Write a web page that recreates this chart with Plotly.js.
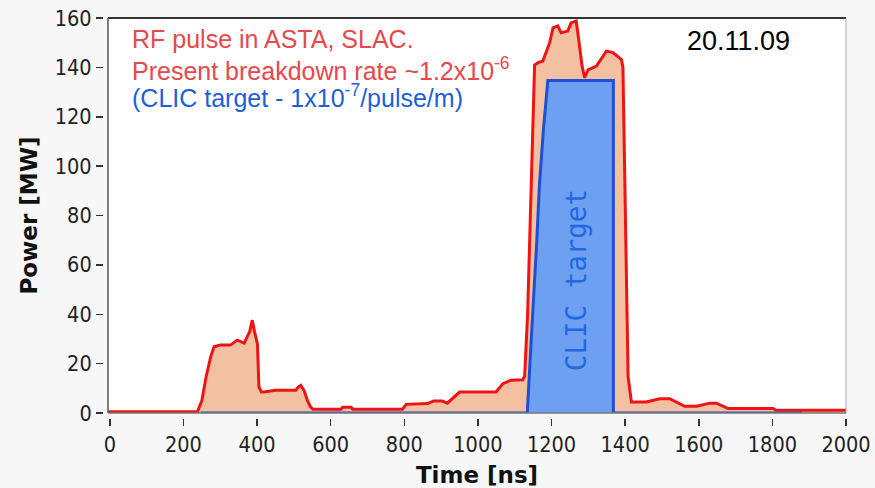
<!DOCTYPE html>
<html>
<head>
<meta charset="utf-8">
<script src="https://cdn.plot.ly/plotly-3.0.1.min.js"></script>
<style>
  html, body { margin: 0; padding: 0; background: #f7f7f7; }
  #chart { width: 875px; height: 488px; }
</style>
</head>
<body>
<div id="chart"></div>
<script>
// Measured RF pulse (ASTA, SLAC), time in ns, power in MW
const rfTime = [-5, 100, 238, 250, 262, 274, 283, 300, 328, 346, 365, 380, 387, 393, 401, 405, 412, 419, 450, 480, 505, 512, 519, 528, 537, 545, 552, 600, 628, 632, 656, 660, 700, 750, 795, 805, 830, 863, 880, 903, 917, 935, 950, 1000, 1049, 1068, 1090, 1122, 1127, 1135, 1140, 1145, 1149, 1154, 1165, 1176, 1185, 1195, 1204, 1217, 1226, 1244, 1253, 1267, 1274, 1283, 1290, 1299, 1322, 1349, 1367, 1390, 1394, 1398, 1403, 1408, 1417, 1457, 1494, 1521, 1562, 1594, 1630, 1648, 1680, 1802, 1810, 2000];
const rfPower = [0.5, 0.5, 0.5, 5, 15, 22.7, 26.8, 27.5, 27.5, 29.5, 28.3, 33, 37.6, 33, 28, 10.6, 8.5, 8.5, 9.2, 9.2, 9.2, 10.5, 11.2, 9, 5, 2.5, 1.5, 1.5, 1.5, 2.3, 2.3, 1.5, 1.5, 1.5, 1.5, 3.5, 3.6, 3.8, 4.9, 4.9, 4.0, 6.5, 8.5, 8.5, 8.5, 11.9, 13.3, 13.5, 15, 40, 64.8, 90, 119, 141, 142, 142.5, 146, 150, 156, 156.8, 154, 154.7, 158, 158.8, 151, 140.5, 135.8, 139, 140.5, 146.6, 146, 143.2, 140, 100, 65, 14.6, 4.5, 4.5, 5.8, 5.8, 2.7, 2.7, 4, 4, 1.8, 1.8, 1.1, 1.1];

// CLIC target pulse
const clicTime = [247, 1134, 1145, 1151, 1160, 1167, 1178, 1190, 1368, 1368, 1880];
const clicPower = [0, 0, 30, 45, 70, 92, 115, 134.7, 134.7, 0, 0];

const xTicks = [0, 200, 400, 600, 800, 1000, 1200, 1400, 1600, 1800, 2000];
const yTicks = [0, 20, 40, 60, 80, 100, 120, 140, 160];

const noteLines = [
  "RF pulse in ASTA, SLAC.",
  "Present breakdown rate ~1.2x10<sup>-6</sup>",
  "(CLIC target - 1x10<sup>-7</sup>/pulse/m)"
];
const dateLabel = "20.11.09";
const clicLabel = "CLIC target";

const tickFont = {family: "DejaVu Sans Condensed, DejaVu Sans, sans-serif", size: 21.5, color: "#222"};
const titleFont = {family: "DejaVu Sans, sans-serif", size: 23, color: "#111", weight: "bold"};
const noteFont = "Liberation Sans, Arial, sans-serif";

const traces = [
  {
    x: rfTime, y: rfPower, type: "scatter", mode: "lines",
    line: {color: "#ee1414", width: 3},
    fill: "tozeroy", fillcolor: "#f4c0a2",
    hoverinfo: "skip"
  },
  {
    x: clicTime, y: clicPower, type: "scatter", mode: "lines",
    line: {color: "#1f4fd6", width: 3},
    fill: "tozeroy", fillcolor: "#6ea0f2",
    hoverinfo: "skip"
  }
];

const layout = {
  width: 875, height: 488,
  margin: {l: 103, r: 29, t: 18, b: 70, pad: 0},
  paper_bgcolor: "#f7f7f7",
  plot_bgcolor: "#ffffff",
  showlegend: false,
  xaxis: {
    domain: [5/743, 1], anchor: "free", position: 0,
    range: [-5, 2000], tickvals: xTicks, ticktext: xTicks.map(String),
    ticks: "outside", ticklen: 7, tickwidth: 1.5, tickcolor: "#333",
    showline: false, showgrid: false, zeroline: false,
    tickfont: tickFont,
    title: {text: "Time [ns]", font: titleFont, standoff: 12}
  },
  yaxis: {
    domain: [5/400, 1], anchor: "free", position: 0,
    range: [0, 160], tickvals: yTicks, ticktext: yTicks.map(String),
    ticks: "outside", ticklen: 7, tickwidth: 1.5, tickcolor: "#333",
    showline: false, showgrid: false, zeroline: false,
    tickfont: tickFont,
    title: {text: "Power [MW]", font: titleFont, standoff: 9}
  },
  shapes: [
    {type: "line", xref: "x domain", yref: "y domain", x0: 0, x1: 1, y0: 1, y1: 1, line: {color: "#333", width: 2}, layer: "above"},
    {type: "line", xref: "x domain", yref: "y domain", x0: 0, x1: 0, y0: 0, y1: 1, line: {color: "#555", width: 1.5}, layer: "above"},
    {type: "line", xref: "x domain", yref: "y domain", x0: 1, x1: 1, y0: 0, y1: 1, line: {color: "#aaa", width: 1}, layer: "above"},
    {type: "line", xref: "x domain", yref: "y domain", x0: 0, x1: 1, y0: 0, y1: 0, line: {color: "#777", width: 1.5}, layer: "above"}
  ],
  annotations: [
    {x: 55, y: 151.5, xref: "x", yref: "y", xanchor: "left", yanchor: "middle", showarrow: false,
     text: noteLines[0], font: {family: noteFont, size: 25, color: "#e8484c"}},
    {x: 55, y: 139.4, xref: "x", yref: "y", xanchor: "left", yanchor: "middle", showarrow: false,
     text: noteLines[1], font: {family: noteFont, size: 25, color: "#e8484c"}},
    {x: 55, y: 128.4, xref: "x", yref: "y", xanchor: "left", yanchor: "middle", showarrow: false,
     text: noteLines[2], font: {family: noteFont, size: 25, color: "#1e5fd8"}},
    {x: 1562, y: 150.7, xref: "x", yref: "y", xanchor: "left", yanchor: "middle", showarrow: false,
     text: dateLabel, font: {family: noteFont, size: 27, color: "#000"}},
    {x: 1265, y: 54, xref: "x", yref: "y", xanchor: "center", yanchor: "middle", showarrow: false,
     textangle: -90, text: clicLabel, font: {family: "DejaVu Sans Mono, monospace", size: 27.5, color: "#2268e2"}}
  ]
};

Plotly.newPlot("chart", traces, layout, {staticPlot: true, displayModeBar: false});
</script>
</body>
</html>
